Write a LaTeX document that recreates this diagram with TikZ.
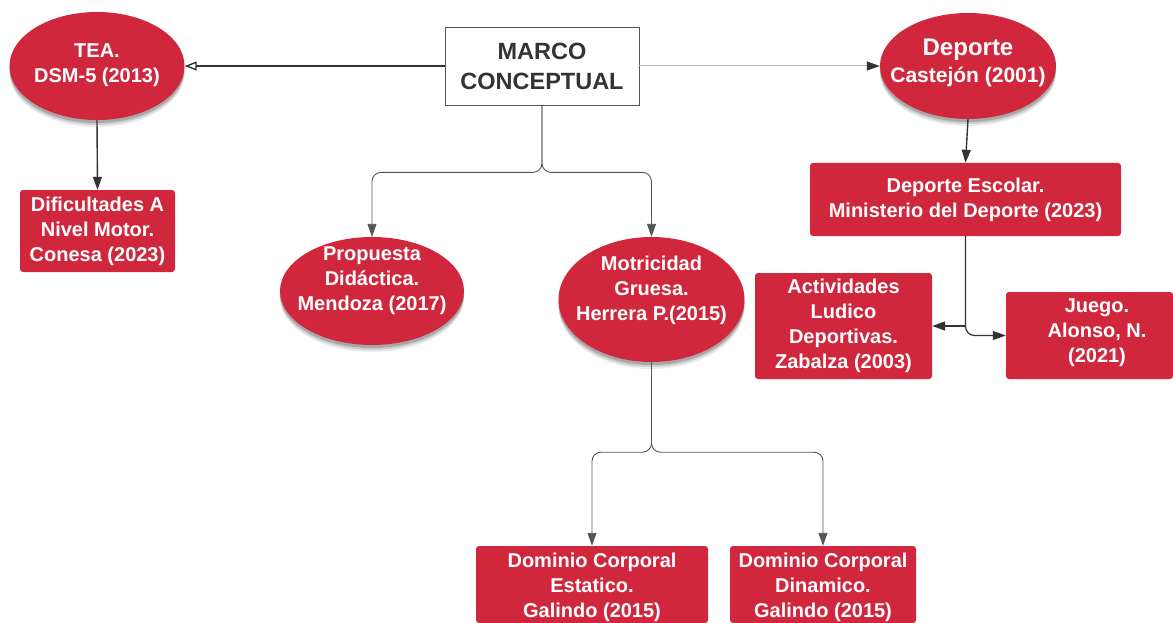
\documentclass[tikz,border=0pt]{standalone}
\usepackage{fontspec}
\setmainfont{Liberation Sans}
\usetikzlibrary{shapes.geometric,arrows.meta,shadows,calc}
\definecolor{cred}{HTML}{D1273C}
\definecolor{cdark}{HTML}{333333}
\definecolor{cgray}{HTML}{555555}
\definecolor{clight}{HTML}{BBBBBB}
\begin{document}
\begin{tikzpicture}[x=1pt,y=-1pt,
  redell/.style={ellipse, fill=cred, inner sep=0pt,
    drop shadow={shadow xshift=0pt, shadow yshift=-7pt, opacity=0.08, fill=black},
    drop shadow={shadow xshift=0pt, shadow yshift=-5pt, opacity=0.12, fill=black},
    drop shadow={shadow xshift=0pt, shadow yshift=-3pt, opacity=0.18, fill=black}},
  redbox/.style={rectangle, rounded corners=3pt, fill=cred, inner sep=0pt},
  wtext/.style={text=white, align=center, inner sep=0pt,
    font=\bfseries\fontsize{20}{25}\selectfont},
  darkline/.style={draw=cdark, line width=1.4pt},
  graceline/.style={draw=cgray, line width=0.9pt, rounded corners=9pt},
  tip/.style={-{Triangle[length=13pt,width=9pt]}},
  otip/.style={-{Triangle[open,length=12pt,width=9pt]}}
]
\useasboundingbox[fill=white] (0,0) rectangle (1173,623);

% top level
\node[draw=cgray, fill=white, line width=0.8pt, minimum width=194pt, minimum height=78pt,
  text=cdark, align=center, font=\bfseries\fontsize{23.5}{30}\selectfont] (marco) at (542,66)
  {MARCO\\CONCEPTUAL};

\node[redell, minimum width=175pt, minimum height=108pt] (tea) at (97,66) {};
\node[wtext] (teat) at (97,65) {TEA.\\DSM-5 (2013)};

\node[redell, minimum width=176pt, minimum height=106pt] (dep) at (968,66) {};
\node[wtext, font=\bfseries\fontsize{21}{27}\selectfont] (dept) at (968,63)
  {{\fontsize{24}{27}\selectfont Deporte}\\Castejón (2001)};

% left branch
\node[redbox, minimum width=155pt, minimum height=82pt] (dif) at (97.5,231) {};
\node[wtext] (dift) at (dif) {Dificultades A\\Nivel Motor.\\Conesa (2023)};

% middle branch
\node[redell, minimum width=184pt, minimum height=108pt] (prop) at (372,291) {};
\node[wtext] (propt) at (372,281) {Propuesta\\Didáctica.\\Mendoza (2017)};

\node[redell, minimum width=186pt, minimum height=125pt] (mot) at (651.5,299.5) {};
\node[wtext] (mott) at (651.5,290) {Motricidad\\Gruesa.\\Herrera P.(2015)};

\node[redbox, minimum width=232pt, minimum height=77pt] (dest) at (592,584.5) {};
\node[wtext] (destt) at (592,587) {Dominio Corporal\\Estatico.\\Galindo (2015)};

\node[redbox, minimum width=186pt, minimum height=77pt] (ddin) at (823,584.5) {};
\node[wtext] (ddint) at (823,587) {Dominio Corporal\\Dinamico.\\Galindo (2015)};

% right branch
\node[redbox, minimum width=311pt, minimum height=73pt] (desc) at (965.5,199.5) {};
\node[wtext] (desct) at (desc) {Deporte Escolar.\\Ministerio del Deporte (2023)};

\node[redbox, minimum width=177pt, minimum height=106pt] (act) at (843.5,326) {};
\node[wtext] (actt) at (act) {Actividades\\Ludico\\Deportivas.\\Zabalza (2003)};

\node[redbox, minimum width=167pt, minimum height=87pt] (jue) at (1089.5,335.5) {};
\node[wtext] (juet) at (1097,333) {Juego.\\Alonso, N.\\(2021)};

% connectors
\draw[darkline, otip] (marco.west) -- (tea.east);
\draw[draw=clight, line width=1pt, -{Triangle[length=13pt,width=9pt,fill=cdark,color=cdark]}] (marco.east) -- (dep.west);
\draw[darkline, tip] (tea.south) -- (dif.north);
\draw[darkline, tip] (dep.south) -- (desc.north);

\draw[graceline, tip] (marco.south) -- ($(marco.south)+(0,67)$) -| (prop.north);
\draw[graceline, tip] (marco.south) -- ($(marco.south)+(0,67)$) -| (mot.north);

\draw[graceline, tip] (mot.south) -- ($(mot.south)+(0,90)$) -| (dest.north);
\draw[graceline, tip] (mot.south) -- ($(mot.south)+(0,90)$) -| (ddin.north);

\draw[darkline, tip] (desc.south) |- (act.east);
\draw[graceline, line width=1.2pt, draw=cdark, tip] (desc.south) |- (jue.west);
\end{tikzpicture}
\end{document}
